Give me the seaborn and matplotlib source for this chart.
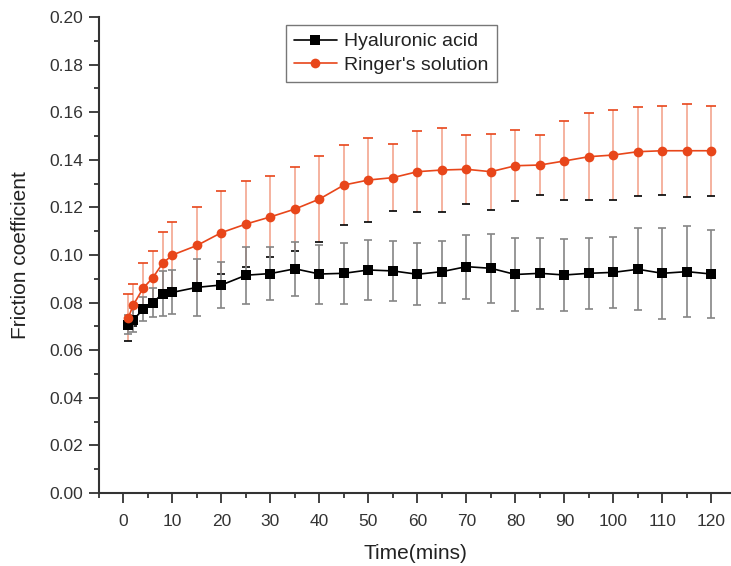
import seaborn as sns
import matplotlib.pyplot as plt
import pandas as pd
import numpy as np
from matplotlib.ticker import MultipleLocator

# tiempos de medida (min)
time = [1, 2, 4, 6, 8, 10, 15, 20, 25, 30, 35, 40, 45, 50, 55, 60, 65, 70,
        75, 80, 85, 90, 95, 100, 105, 110, 115, 120]

# acido hialuronico
ha_mean = [0.0706, 0.0727, 0.0772, 0.0800, 0.0838, 0.0843, 0.0864, 0.0874,
           0.0915, 0.0922, 0.0942, 0.0920, 0.0923, 0.0937, 0.0933, 0.0919,
           0.0930, 0.0951, 0.0944, 0.0918, 0.0923, 0.0916, 0.0923, 0.0927,
           0.0940, 0.0923, 0.0930, 0.0920]
ha_err = [0.004, 0.005, 0.005, 0.006, 0.0094, 0.0093, 0.012, 0.0095,
          0.012, 0.0113, 0.0113, 0.0124, 0.0128, 0.0125, 0.0125, 0.013,
          0.013, 0.0135, 0.0145, 0.0154, 0.015, 0.0152, 0.015, 0.015,
          0.0173, 0.019, 0.019, 0.0185]

# solucion de Ringer
rs_mean = [0.0737, 0.0790, 0.0860, 0.0905, 0.0965, 0.1000, 0.1040, 0.1094,
           0.1130, 0.1160, 0.1193, 0.1235, 0.1294, 0.1315, 0.1325, 0.1350,
           0.1357, 0.1360, 0.1350, 0.1375, 0.1378, 0.1395, 0.1413, 0.1420,
           0.1434, 0.1438, 0.1438, 0.1438]
rs_err = [0.010, 0.009, 0.0105, 0.011, 0.013, 0.0137, 0.016, 0.0176,
          0.018, 0.017, 0.0175, 0.018, 0.017, 0.0175, 0.014, 0.017,
          0.0175, 0.0145, 0.016, 0.015, 0.0128, 0.0166, 0.0182, 0.0189,
          0.0186, 0.0186, 0.0196, 0.019]

df = pd.DataFrame({
    'time': time * 2,
    'friction': ha_mean + rs_mean,
    'fluid': ['Hyaluronic acid'] * len(time) + ["Ringer's solution"] * len(time),
})

sns.set_style('ticks')
plt.rcParams['font.family'] = ['Liberation Sans', 'DejaVu Sans']

fig = plt.figure(figsize=(7.31, 5.66), dpi=100)
ax = fig.add_axes([0.1354, 0.129, 0.8646, 0.841])

red = '#e8461a'
txt = '#333333'
# barras de error
ax.errorbar(time, rs_mean, yerr=rs_err, fmt='none', ecolor='#f3a58f',
            elinewidth=1.2, capsize=3, capthick=1.2, zorder=1)
ax.errorbar(time, ha_mean, yerr=ha_err, fmt='none', ecolor='#858585',
            elinewidth=1.2, capsize=3, capthick=1.2, zorder=1.5)

sns.lineplot(data=df, x='time', y='friction', hue='fluid', style='fluid',
             palette={'Hyaluronic acid': 'black', "Ringer's solution": red},
             markers={'Hyaluronic acid': 's', "Ringer's solution": 'o'},
             dashes=False, markersize=7, markeredgewidth=0, linewidth=1.2,
             ax=ax, zorder=3)
for ln, lc, mc, ms in zip(ax.lines, ['#3a3a3a', '#f07a55'], ['black', red], [6.3, 7.3]):
    ln.set_color(lc)
    ln.set_markerfacecolor(mc)
    ln.set_markeredgecolor(mc)
    ln.set_markersize(ms)

ax.set_xlim(-5, 124)
ax.set_ylim(0, 0.20)
ax.xaxis.set_major_locator(MultipleLocator(10))
ax.xaxis.set_minor_locator(MultipleLocator(5))
ax.yaxis.set_major_locator(MultipleLocator(0.02))
ax.yaxis.set_minor_locator(MultipleLocator(0.01))
ax.set_xticks(np.arange(0, 121, 10))
ax.yaxis.set_major_formatter(plt.FormatStrFormatter('%.2f'))
ax.tick_params(which='major', length=7, width=1.3, labelsize=12.5,
               colors=txt)
ax.tick_params(which='minor', length=3.5, width=1.3, colors=txt)
ax.tick_params(axis='x', which='major', pad=8)
ax.tick_params(axis='y', which='major', pad=4.5)
for s in ['left', 'bottom']:
    ax.spines[s].set_linewidth(1.5)
    ax.spines[s].set_color(txt)
sns.despine(ax=ax)

ax.set_xlabel('Time(mins)', fontsize=15, color='#222222')
ax.set_ylabel('Friction coefficient', fontsize=15, color='#222222')
ax.yaxis.set_label_coords(-0.109, 0.5)
ax.xaxis.set_label_coords(0.5, -0.108)

h, l = ax.get_legend_handles_labels()
leg = ax.legend(h, l, loc='upper left', bbox_to_anchor=(0.296, 0.983),
                fontsize=14, frameon=True, fancybox=False, edgecolor='#555555',
                handlelength=2.2, handletextpad=0.4, borderpad=0.4,
                labelspacing=0.3, borderaxespad=0)
leg.get_frame().set_linewidth(1.0)
for t in leg.get_texts():
    t.set_color('#222222')

fig.savefig('out.png', dpi=100)
